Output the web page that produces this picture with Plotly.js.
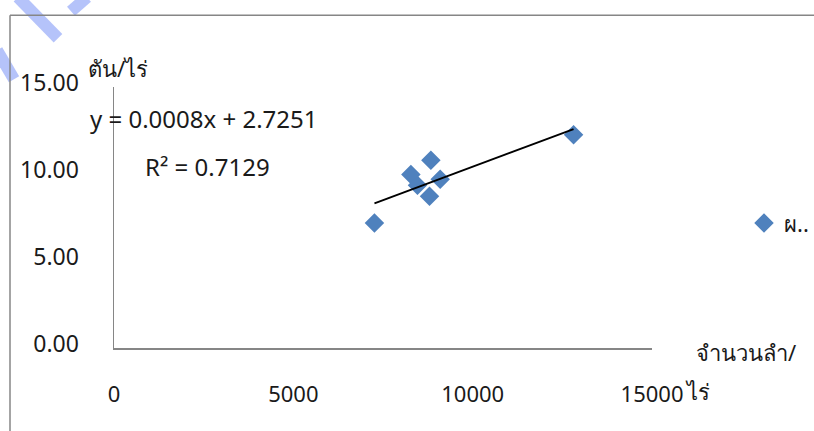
<!DOCTYPE html>
<html>
<head>
<meta charset="utf-8">
<script src="https://cdn.plot.ly/plotly-3.0.1.min.js"></script>
<style>
  html, body { margin: 0; padding: 0; background: #fff; }
  #chart { width: 814px; height: 431px; }
</style>
</head>
<body>
<div id="chart"></div>
<script>
// ---- data ----
const seriesName = "ผ..";
const areaRai = [7262, 8277, 8835, 8461, 9094, 8796, 12813];
const yieldTonPerRai = [7.18, 9.97, 10.79, 9.35, 9.70, 8.72, 12.26];
const xTickVals = [0, 5000, 10000, 15000];
const xTickText = ["0", "5000", "10000", "15000"];
const yTickVals = [0, 5, 10, 15];
const yTickText = ["0.00", "5.00", "10.00", "15.00"];
const yTitle = "ตัน/ไร่";
const xTitleLine1 = "จำนวนลำ/";
const xTitleLine2 = "ไร่";
const equationText = "y = 0.0008x + 2.7251";
const r2Text = "R² = 0.7129";

// ---- linear fit computed from the data ----
const n = areaRai.length;
const mx = areaRai.reduce((a, b) => a + b, 0) / n;
const my = yieldTonPerRai.reduce((a, b) => a + b, 0) / n;
let sxy = 0, sxx = 0;
for (let i = 0; i < n; i++) {
  sxy += (areaRai[i] - mx) * (yieldTonPerRai[i] - my);
  sxx += (areaRai[i] - mx) * (areaRai[i] - mx);
}
const slope = sxy / sxx;
const intercept = my - slope * mx;
const xMin = Math.min(...areaRai), xMax = Math.max(...areaRai);
const fitX = [xMin, xMax];
const fitY = fitX.map(v => slope * v + intercept);

// ---- layout geometry ----
const W = 814, H = 431;
const ML = 114, MR = 162, MT = 86.7, MB = 83.3;
const PW = W - ML - MR, PH = H - MT - MB;
const px = x => (x - ML) / PW;
const py = y => (H - MB - y) / PH;

const FONT = "Noto Sans, DejaVu Sans, sans-serif";
const TXT = "#1a1a1a";
const AXC = "#868686";

const traces = [
  {
    type: "scatter", mode: "markers", name: seriesName,
    x: areaRai, y: yieldTonPerRai,
    marker: { symbol: "diamond", size: 15, color: "#4F81BD" },
    cliponaxis: false
  },
  {
    type: "scatter", mode: "lines", showlegend: false,
    x: fitX, y: fitY,
    line: { color: "#000000", width: 2 },
    hoverinfo: "skip"
  }
];

const wm = "rgba(120,145,245,0.55)";
const layout = {
  width: W, height: H,
  paper_bgcolor: "#ffffff", plot_bgcolor: "rgba(0,0,0,0)",
  margin: { l: ML, r: MR, t: MT, b: MB, pad: 0, autoexpand: false },
  font: { family: FONT, size: 22, color: TXT },
  showlegend: true,
  legend: {
    x: px(744), y: py(223), xanchor: "left", yanchor: "middle",
    bgcolor: "rgba(0,0,0,0)", borderwidth: 0,
    font: { family: FONT, size: 22, color: TXT },
    itemwidth: 30
  },
  xaxis: {
    range: [0, 15000], autorange: false,
    tickmode: "array", tickvals: xTickVals, ticktext: xTickText,
    showline: true, linecolor: AXC, linewidth: 1.5,
    ticks: "outside", ticklen: 26, tickcolor: "rgba(0,0,0,0)",
    showgrid: false, zeroline: false, automargin: false,
    tickfont: { family: FONT, size: 22, color: TXT }
  },
  yaxis: {
    range: [0, 15], autorange: false,
    tickmode: "array", tickvals: yTickVals, ticktext: yTickText,
    showline: true, linecolor: AXC, linewidth: 1.5,
    ticks: "outside", ticklen: 29, tickcolor: "rgba(0,0,0,0)",
    ticklabelshift: -4,
    showgrid: false, zeroline: false, automargin: false,
    tickfont: { family: FONT, size: 23, color: TXT }
  },
  annotations: [
    { xref: "paper", yref: "paper", x: px(86), y: py(68), xanchor: "left", yanchor: "middle",
      text: yTitle, showarrow: false, font: { family: FONT, size: 22, color: TXT } },
    { xref: "paper", yref: "paper", x: px(88), y: py(118), xanchor: "left", yanchor: "middle",
      text: equationText, showarrow: false, font: { family: FONT, size: 24, color: TXT } },
    { xref: "paper", yref: "paper", x: px(143), y: py(166), xanchor: "left", yanchor: "middle",
      text: r2Text, showarrow: false, font: { family: FONT, size: 24, color: TXT } },
    { xref: "paper", yref: "paper", x: px(694), y: py(352), xanchor: "left", yanchor: "middle",
      text: xTitleLine1, showarrow: false, font: { family: FONT, size: 22, color: TXT } },
    { xref: "paper", yref: "paper", x: px(683), y: py(391), xanchor: "left", yanchor: "middle",
      text: xTitleLine2, showarrow: false, font: { family: FONT, size: 22, color: TXT } }
  ],
  shapes: [
    // chart-area border (top and left visible)
    { type: "line", xref: "paper", yref: "paper", x0: px(10), y0: py(15), x1: px(816), y1: py(15),
      line: { color: AXC, width: 1.5 } },
    { type: "line", xref: "paper", yref: "paper", x0: px(10), y0: py(15), x1: px(10), y1: py(433),
      line: { color: AXC, width: 1.5 } },
    // watermark strokes
    { type: "line", xref: "paper", yref: "paper", x0: px(18), y0: py(-3), x1: px(58), y1: py(38),
      line: { color: wm, width: 12 }, layer: "below" },
    { type: "line", xref: "paper", yref: "paper", x0: px(-3), y0: py(50), x1: px(14), y1: py(79),
      line: { color: wm, width: 12 }, layer: "below" },
    { type: "line", xref: "paper", yref: "paper", x0: px(87), y0: py(-3), x1: px(71), y1: py(11),
      line: { color: wm, width: 12 }, layer: "below" }
  ]
};

Plotly.newPlot("chart", traces, layout, { displayModeBar: false, staticPlot: true });
</script>
</body>
</html>
